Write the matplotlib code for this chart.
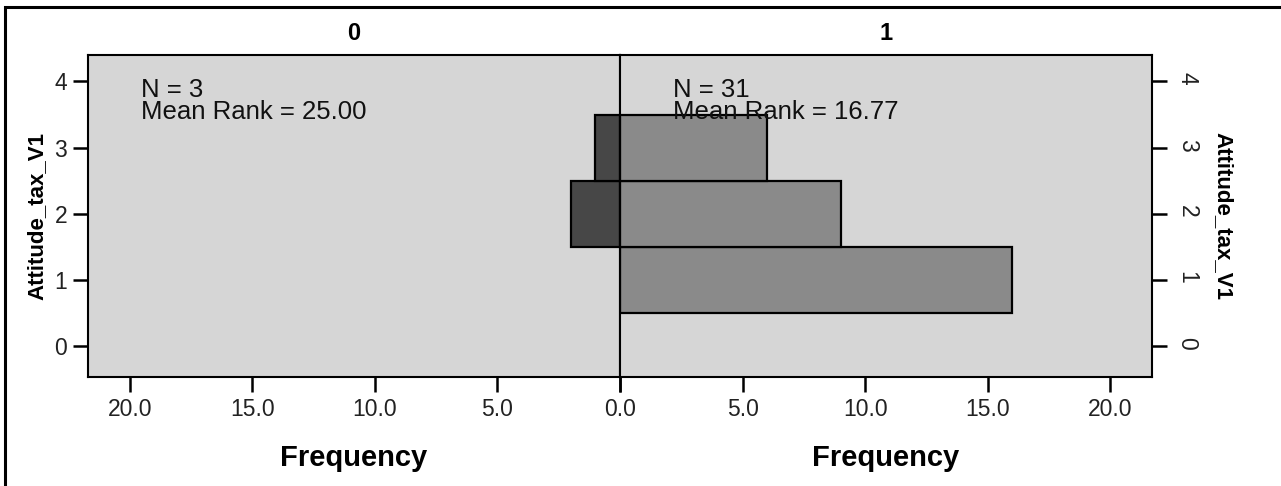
import numpy as np
import matplotlib
matplotlib.use('Agg')
import matplotlib.pyplot as plt
from matplotlib.patches import Rectangle

plt.rcParams['font.family'] = ['Liberation Sans', 'DejaVu Sans']

# Attitude_tax_V1 frequencies split by group
categories = [0, 1, 2, 3, 4]
group_labels = ['0', '1']
freq_group0 = [0, 0, 2, 1, 0]
freq_group1 = [0, 16, 9, 6, 0]
group_n = [3, 31]
mean_rank = [25.00, 16.77]
freq_ticks = [0.0, 5.0, 10.0, 15.0, 20.0]

W, H = 1281, 486
fig = plt.figure(figsize=(W / 100, H / 100), dpi=100)

def px_box(x0, y0, x1, y1):
    return [x0 / W, 1 - y1 / H, (x1 - x0) / W, (y1 - y0) / H]

ax0 = fig.add_axes(px_box(88, 55, 620, 377))
ax1 = fig.add_axes(px_box(620, 55, 1152, 377))

panel_bg = '#d6d6d6'
xmax = 21.7
for ax, freqs, color in ((ax0, freq_group0, '#474747'), (ax1, freq_group1, '#8a8a8a')):
    ax.set_facecolor(panel_bg)
    cats = [c for c, f in zip(categories, freqs) if f > 0]
    vals = [f for f in freqs if f > 0]
    ax.barh(cats, vals, height=1.0, color=color, edgecolor='black', linewidth=1.6, zorder=2)
    ax.set_ylim(-0.47, 4.4)
    ax.set_xticks(freq_ticks)
    ax.set_yticks(categories)
    for sp in ax.spines.values():
        sp.set_linewidth(1.5)
    ax.tick_params(axis='both', length=11, width=1.8, labelsize=16.5, color='black',
                   labelcolor='#222222')
    ax.tick_params(axis='x', pad=4)
    ax.set_xlabel('Frequency', fontsize=21, fontweight='bold', labelpad=17)

# the shared 0.0 is labelled once, under the left panel
ax0.set_xticklabels(['{:.1f}'.format(t) for t in freq_ticks])
ax1.set_xticklabels(['' if t == 0 else '{:.1f}'.format(t) for t in freq_ticks])

ax0.set_xlim(xmax, 0)
ax1.set_xlim(0, xmax)

ax0.tick_params(axis='y', left=True, right=False, labelleft=True, labelright=False, pad=4)
ax0.set_ylabel('Attitude_tax_V1', fontsize=16, fontweight='bold', labelpad=5)

ax1.yaxis.tick_right()
ax1.tick_params(axis='y', left=False, right=True, labelleft=False, labelright=True,
                labelrotation=-90, pad=6)
ax1.yaxis.set_label_position('right')
ax1.set_ylabel('Attitude_tax_V1', fontsize=16, fontweight='bold', rotation=-90,
               labelpad=25)

for ax, label, n, mr in zip((ax0, ax1), group_labels, group_n, mean_rank):
    ax.set_title(label, fontsize=17, fontweight='bold', pad=11)
    ax.text(0.099, 0.870, 'N = {}'.format(n), transform=ax.transAxes,
            fontsize=18.5, color='#111111', zorder=5)
    ax.text(0.099, 0.800, 'Mean Rank = {:.2f}'.format(mr), transform=ax.transAxes,
            fontsize=18.5, color='#111111', zorder=5)

# outer frame (right and bottom edges fall outside the canvas)
fig.add_artist(Rectangle((5 / W, -0.1), 1.2, 1 - 7 / H + 0.1, transform=fig.transFigure,
                         fill=False, edgecolor='black', linewidth=2.2))

fig.savefig('out.png', dpi=100, facecolor='white')
